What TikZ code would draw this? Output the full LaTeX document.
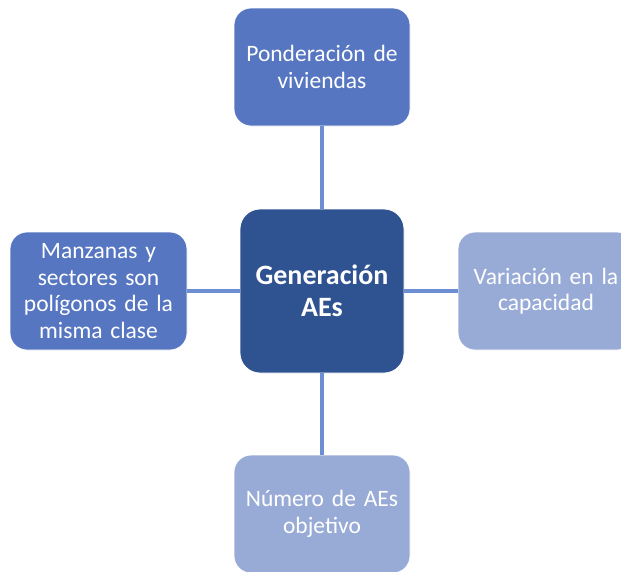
\documentclass[tikz,border=0pt]{standalone}
\usepackage{fontspec}
\setmainfont[WordSpace=0.8]{Carlito}
\definecolor{midblue}{HTML}{5676C2}
\definecolor{darkblue}{HTML}{2F5290}
\definecolor{lightblue}{HTML}{98AAD6}
\definecolor{linkblue}{HTML}{6E8ED4}
\begin{document}
\begin{tikzpicture}[x=1pt,y=-1pt,
  box/.style={draw=white,line width=0.8pt,rounded corners=17pt,minimum width=176pt,minimum height=118pt,text width=172pt,align=center,text=white,font=\fontsize{23.5}{26.5}\selectfont,inner sep=0pt},
  mainbox/.style={draw=white,line width=0.8pt,fill=darkblue,rounded corners=20pt,minimum width=164pt,minimum height=164pt,text width=160pt,align=center,text=white,font=\fontsize{28}{31.5}\selectfont\bfseries,inner sep=0pt},
  link/.style={draw=linkblue,line width=3.2pt}]
\useasboundingbox (0,0) rectangle (621,571);
\node[mainbox] (c) at (322,291) {Generación\\AEs};
\node[box,fill=midblue] (t) at (322,67) {Ponderación de\\viviendas};
\node[box,fill=midblue,minimum width=177pt] (l) at (98.5,291) {Manzanas y\\sectores son\\polígonos de la\\misma clase};
\node[box,fill=lightblue] (r) at (546,291) {Variación en la\\capacidad};
\node[box,fill=lightblue] (b) at (322,514) {Número de AEs\\objetivo};
\draw[link] (t) -- (c);
\draw[link] (l) -- (c);
\draw[link] (c) -- (r);
\draw[link] (c) -- (b);
\end{tikzpicture}
\end{document}
